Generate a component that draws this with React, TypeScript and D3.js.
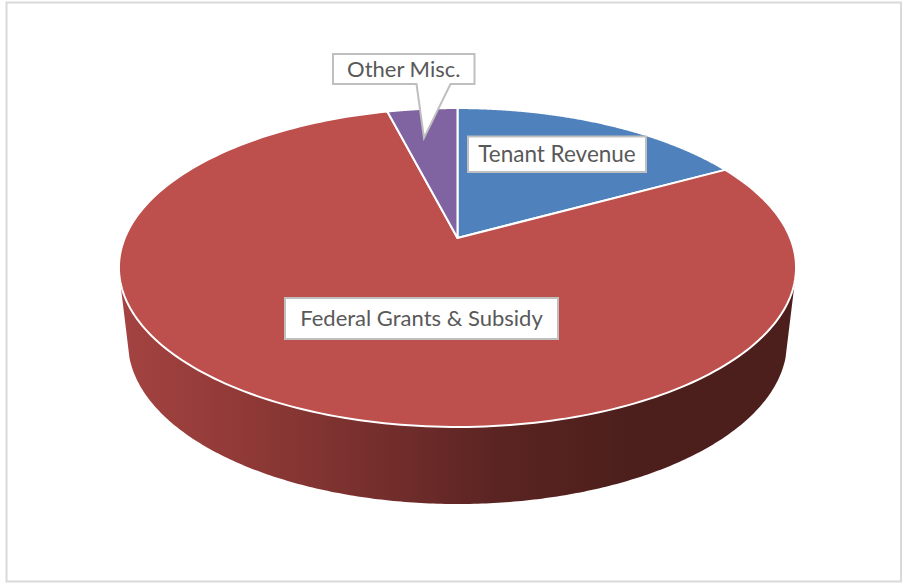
import React from "react";
import * as d3 from "d3";

// Revenue shares by source, in percent, clockwise from twelve o'clock.
const categories = ["Tenant Revenue", "Federal Grants & Subsidy", "Other Misc."];
const shares = [17, 79, 4];
const sliceColors = ["#4f81bd", "#bd4f4c", "#8064a2"];

const width = 904;
const height = 584;

// Perspective tilt of the disc: plan-view unit circle to screen coordinates.
const apex = { x: 457.5, y: 238 };
const tilt = 0.185;
const spanX = 332.7;
const spanY = 154;

const project = (angle: number) => {
  const u = Math.sin(angle);
  const v = -Math.cos(angle);
  const w = 1 - tilt * v;
  return [apex.x + (spanX * u) / w, apex.y + (spanY * v) / w] as [number, number];
};

// Lower rim of the disc, seen as a slightly smaller ellipse.
const base = { x: 457.5, y: 342.5, rx: 329.5, ry: 161.5 };
const baseAt = (t: number) =>
  [base.x + base.rx * Math.cos(t), base.y + base.ry * Math.sin(t)] as [number, number];

const line = d3.line<[number, number]>();

const sampleAngles = (a: number, b: number, n = 240) =>
  d3.range(n + 1).map((i) => a + ((b - a) * i) / n);

const pie = d3
  .pie<number>()
  .sort(null)
  .startAngle(0)
  .endAngle(2 * Math.PI);

// The visible wall runs between the two silhouette points of the top rim.
const wallStart = (103.2 * Math.PI) / 180;
const wallEnd = (257.2 * Math.PI) / 180;
const wallPoints: [number, number][] = [
  ...sampleAngles(wallStart, wallEnd).map(project),
  ...sampleAngles((174.6 * Math.PI) / 180, (5.4 * Math.PI) / 180).map(baseAt),
];

const wallStops = [
  { offset: 0, color: "#a44341" },
  { offset: 0.25, color: "#8f3936" },
  { offset: 0.5, color: "#762f2d" },
  { offset: 0.75, color: "#5a2422" },
  { offset: 1, color: "#4d1f1c" },
];

const boxStroke = "#bfbfbf";
const textColor = "#595959";
const fontFamily = "Lato, 'Open Sans', sans-serif";

type Box = { x0: number; x1: number; y0: number; y1: number; pointer?: [number, number][] };
const labelBoxes: Box[] = [
  { x0: 468, x1: 646, y0: 136.5, y1: 172 },
  { x0: 285, x1: 558, y0: 298, y1: 339 },
  {
    x0: 333,
    x1: 474.5,
    y0: 54,
    y1: 84,
    pointer: [
      [416.5, 84],
      [424, 138],
      [450.5, 84],
    ],
  },
];
const labelFontSizes = [22.5, 22, 22];

function boxPath(b: Box) {
  const pts: [number, number][] = [
    [b.x0, b.y0],
    [b.x1, b.y0],
    [b.x1, b.y1],
    ...(b.pointer ? [b.pointer[2], b.pointer[1], b.pointer[0]] : []),
    [b.x0, b.y1],
  ];
  return line(pts) + "Z";
}

export default function App() {
  const arcs = pie(shares);
  return (
    <svg
      width={width}
      height={height}
      viewBox={`0 0 ${width} ${height}`}
      style={{ position: "absolute", left: 0, top: 0, display: "block", background: "#fff" }}
    >
      <defs>
        <linearGradient id="wallShade" gradientUnits="userSpaceOnUse" x1={122} x2={625} y1={0} y2={0}>
          {wallStops.map((s) => (
            <stop key={s.offset} offset={s.offset} stopColor={s.color} />
          ))}
        </linearGradient>
      </defs>

      <rect x={6.5} y={2.5} width={894.5} height={579} fill="#fff" stroke="#d9d9d9" strokeWidth={2} />

      <path d={line(wallPoints) + "Z"} fill="url(#wallShade)" />

      {arcs.map((a, i) => (
        <path
          key={categories[i]}
          d={
            line([
              [apex.x, apex.y],
              ...sampleAngles(a.startAngle, a.endAngle).map(project),
            ]) + "Z"
          }
          fill={sliceColors[i]}
          stroke="#fff"
          strokeWidth={2}
          strokeLinejoin="round"
        />
      ))}

      {labelBoxes.map((b, i) => (
        <g key={categories[i]}>
          <path d={boxPath(b)} fill="#fff" stroke={boxStroke} strokeWidth={2} />
          <text
            x={(b.x0 + b.x1) / 2}
            y={(b.y0 + b.y1) / 2 + 7.5}
            textAnchor="middle"
            fontFamily={fontFamily}
            fontSize={labelFontSizes[i]}
            fill={textColor}
          >
            {categories[i]}
          </text>
        </g>
      ))}
    </svg>
  );
}
